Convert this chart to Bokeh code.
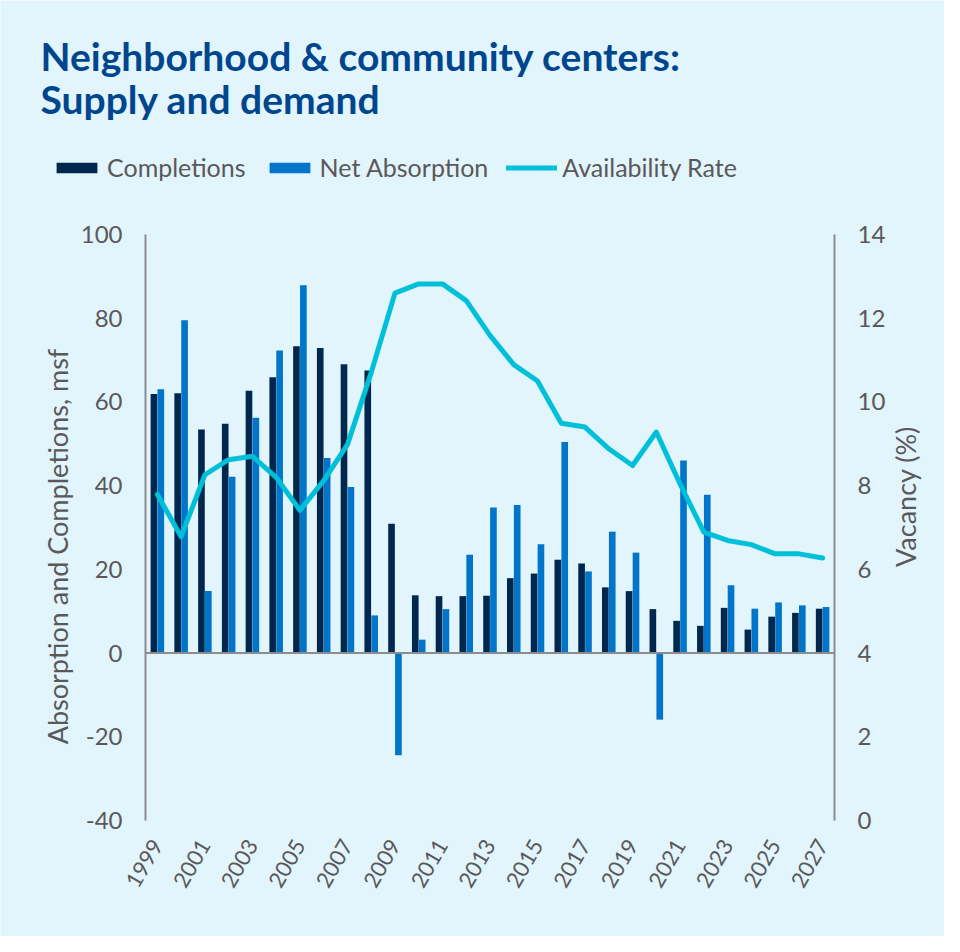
import math
from bokeh.plotting import figure
from bokeh.models import (Range1d, LinearAxis, FixedTicker, Label, Legend,
                          LegendItem, ColumnDataSource)
from bokeh.embed import file_html
from bokeh.resources import INLINE
from bokeh.transform import dodge

# ---------------- data ----------------
years = list(range(1999, 2028))
completions = [61.9, 62.1, 53.4, 54.8, 62.7, 65.9, 73.3, 72.9, 69.0, 67.5,
               30.9, 13.8, 13.6, 13.6, 13.7, 17.9, 19.0, 22.3, 21.4, 15.7,
               14.8, 10.5, 7.7, 6.5, 10.8, 5.6, 8.7, 9.6, 10.6]
net_absorption = [63.0, 79.5, 14.8, 42.1, 56.2, 72.3, 87.9, 46.6, 39.7, 9.0,
                  -24.4, 3.2, 10.5, 23.5, 34.8, 35.4, 26.0, 50.4, 19.5, 29.0,
                  24.0, -15.9, 46.0, 37.8, 16.2, 10.6, 12.1, 11.4, 11.0]
availability_rate = [7.79, 6.78, 8.26, 8.62, 8.70, 8.20, 7.41, 8.12, 8.98, 10.7,
                     12.60, 12.82, 12.82, 12.42, 11.59, 10.89, 10.50, 9.49, 9.40, 8.88,
                     8.48, 9.28, 8.04, 6.89, 6.69, 6.59, 6.37, 6.37, 6.27]
x_tick_years = list(range(1999, 2028, 2))
x_tick_labels = [str(y) for y in x_tick_years]
left_ticks = [-40, -20, 0, 20, 40, 60, 80, 100]
left_tick_labels = ["-40", "-20", "0", "20", "40", "60", "80", "100"]
right_ticks = [0, 2, 4, 6, 8, 10, 12, 14]

title_line1 = "Neighborhood & community centers:"
title_line2 = "Supply and demand"
left_axis_title = "Absorption and Completions, msf"
right_axis_title = "Vacancy (%)"
series_names = ["Completions", "Net Absorption", "Availability Rate"]

# ---------------- style / layout (pixels) ----------------
BG = "#E2F4FC"
C_COMP = "#00284F"
C_ABS = "#0075C9"
C_LINE = "#00C0D9"
C_AXIS = "#8C8C8C"
C_TEXT = "#595959"
C_TITLE = "#00468E"
FONT = "Lato"

W, H = 944, 936
PX_LEFT, PX_RIGHT = 145, 834      # value-axis columns
PX_TOP, PX_BOTTOM = 234, 820      # top / bottom of value axes

x_lo = years[0] - 0.5
x_hi = years[-1] + 0.5
xs = (x_hi - x_lo) / (PX_RIGHT - PX_LEFT)
L_MIN, L_MAX = left_ticks[0], left_ticks[-1]
R_MIN, R_MAX = right_ticks[0], right_ticks[-1]
ls = (L_MAX - L_MIN) / (PX_BOTTOM - PX_TOP)
rs = (R_MAX - R_MIN) / (PX_BOTTOM - PX_TOP)

# the plotting frame covers the whole canvas so nothing is clipped
p = figure(width=W, height=H, output_backend="svg", toolbar_location=None,
           x_range=Range1d(x_lo - PX_LEFT * xs, x_hi + (W - PX_RIGHT) * xs),
           y_range=Range1d(L_MIN - (H - PX_BOTTOM) * ls, L_MAX + PX_TOP * ls),
           min_border=0, min_border_left=0, min_border_right=0,
           min_border_top=0, min_border_bottom=0,
           background_fill_color=BG, border_fill_color=BG,
           outline_line_color=None)
p.xgrid.visible = False
p.ygrid.visible = False
p.extra_y_ranges = {"vac": Range1d(R_MIN - (H - PX_BOTTOM) * rs, R_MAX + PX_TOP * rs)}

src = ColumnDataSource(dict(year=years, comp=completions, absn=net_absorption,
                            avail=availability_rate))

r_comp = p.vbar(x=dodge("year", -0.145), top="comp", width=0.28, source=src,
                fill_color=C_COMP, line_color=None)
r_abs = p.vbar(x=dodge("year", 0.145), top="absn", width=0.28, source=src,
               fill_color=C_ABS, line_color=None)
# zero baseline across the plot area
p.segment(x0=[x_lo], x1=[x_hi], y0=[0], y1=[0], line_color=C_AXIS, line_width=2)
r_line = p.line("year", "avail", y_range_name="vac", source=src,
                line_color=C_LINE, line_width=5, line_cap="round", line_join="round")

# left axis
ya = p.yaxis[0]
ya.fixed_location = x_lo
ya.bounds = (L_MIN, L_MAX)
ya.ticker = FixedTicker(ticks=left_ticks)
ya.major_label_overrides = dict(zip(left_ticks, left_tick_labels))
ya.axis_line_color = C_AXIS
ya.axis_line_width = 2
ya.major_tick_line_color = None
ya.minor_tick_line_color = None
ya.major_tick_out = 0
ya.major_tick_in = 0
ya.major_label_standoff = 23
ya.major_label_text_font = FONT
ya.major_label_text_font_size = "24px"
ya.major_label_text_color = C_TEXT

# right axis
ra = LinearAxis(y_range_name="vac", ticker=FixedTicker(ticks=right_ticks),
                bounds=(R_MIN, R_MAX), fixed_location=x_hi)
ra.axis_line_color = C_AXIS
ra.axis_line_width = 2
ra.major_tick_line_color = None
ra.minor_tick_line_color = None
ra.major_tick_out = 0
ra.major_tick_in = 0
ra.major_label_standoff = 23
ra.major_label_text_font = FONT
ra.major_label_text_font_size = "24px"
ra.major_label_text_color = C_TEXT
p.add_layout(ra, "right")

# x axis
xa = p.xaxis[0]
xa.fixed_location = L_MIN
xa.ticker = FixedTicker(ticks=x_tick_years)
xa.major_label_overrides = dict(zip(x_tick_years, x_tick_labels))
xa.major_label_orientation = math.pi / 3
xa.axis_line_color = None
xa.major_tick_line_color = None
xa.minor_tick_line_color = None
xa.major_tick_out = 0
xa.major_tick_in = 0
xa.major_label_standoff = 21
xa.major_label_text_font = FONT
xa.major_label_text_font_size = "22px"
xa.major_label_text_color = C_TEXT

# axis titles (screen units from the canvas' bottom-left)
p.add_layout(Label(x=57, y=H - 546, x_units="screen", y_units="screen",
                   text=left_axis_title, angle=math.pi / 2,
                   text_align="center", text_baseline="middle",
                   text_font=FONT, text_font_size="27px", text_color=C_TEXT))
p.add_layout(Label(x=905, y=H - 496, x_units="screen", y_units="screen",
                   text=right_axis_title, angle=math.pi / 2,
                   text_align="center", text_baseline="middle",
                   text_font=FONT, text_font_size="27px", text_color=C_TEXT))

# title
for txt, baseline in [(title_line1, 55), (title_line2, 98)]:
    p.add_layout(Label(x=40, y=H - baseline, x_units="screen", y_units="screen",
                       text=txt, text_font=FONT, text_font_style="bold",
                       text_font_size="39px", text_color=C_TITLE,
                       text_baseline="alphabetic"))

legend = Legend(items=[LegendItem(label=series_names[0], renderers=[r_comp]),
                       LegendItem(label=series_names[1], renderers=[r_abs]),
                       LegendItem(label=series_names[2], renderers=[r_line])],
                location=(51, H - 167 - 15), orientation="horizontal",
                glyph_width=51, glyph_height=13, label_standoff=5, spacing=18,
                padding=0, margin=0, border_line_color=None,
                background_fill_alpha=0,
                label_text_font=FONT, label_text_font_size="25px",
                label_text_color=C_TEXT)
p.add_layout(legend)

open("out.html", "w").write(file_html(p, INLINE))
